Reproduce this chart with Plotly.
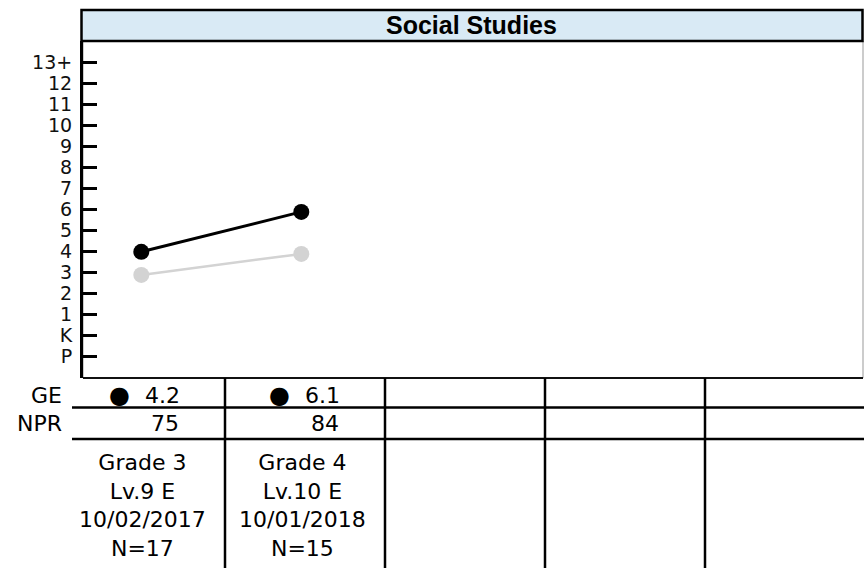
import plotly.graph_objects as go

# ---------------- data ----------------
subject = "Social Studies"
grade_labels = ["P", "K", "1", "2", "3", "4", "5", "6", "7", "8", "9", "10", "11", "12", "13+"]
grade_levels = [-1, 0, 1, 2, 3, 4, 5, 6, 7, 8, 9, 10, 11, 12, 13]
test_index = [0, 1]
ge_values = [4.2, 6.1]          # student grade equivalent (black)
norm_ge = [3.1, 4.1]            # comparison grade equivalent (gray)
ge_text = ["4.2", "6.1"]
npr_values = [75, 84]
grades = ["Grade 3", "Grade 4"]
levels = ["Lv.9 E", "Lv.10 E"]
dates = ["10/02/2017", "10/01/2018"]
n_counts = [17, 15]
n_columns = 5

# ---------------- geometry helpers (pixels -> paper) ----------------
W, H = 864, 568
L, R, T, B = 83, 1, 41, 190
PW, PH = W - L - R, H - T - B


def px(X):
    return (X - L) / PW


def py(Y):
    return (H - B - Y) / PH


FONT = "DejaVu Sans"
tick_offset = 0.2

fig = go.Figure()

fig.add_trace(go.Scatter(
    x=test_index, y=norm_ge, mode="lines+markers",
    line=dict(color="#d3d3d3", width=2.5),
    marker=dict(color="#d3d3d3", size=16),
    hoverinfo="skip", showlegend=False,
))
fig.add_trace(go.Scatter(
    x=test_index, y=ge_values, mode="lines+markers",
    line=dict(color="#000000", width=3),
    marker=dict(color="#000000", size=16),
    hoverinfo="skip", showlegend=False,
))

shapes = []
# plot frame (thin gray), bottom dark line
shapes.append(dict(type="rect", xref="paper", yref="paper", x0=0, x1=1, y0=0, y1=1,
                   line=dict(color="#999999", width=1), layer="below"))
shapes.append(dict(type="line", xref="paper", yref="paper", x0=0, x1=1, y0=0, y1=0,
                   line=dict(color="#111111", width=2)))
# title band
shapes.append(dict(type="rect", xref="paper", yref="paper",
                   x0=px(81.5), x1=px(862.5), y0=1, y1=py(10),
                   fillcolor="#d9eaf5", line=dict(color="#000000", width=2.5)))
# table horizontal rules
for Y in (407.5, 439):
    shapes.append(dict(type="line", xref="paper", yref="paper",
                       x0=px(72), x1=px(864), y0=py(Y), y1=py(Y),
                       line=dict(color="#000000", width=2.5)))
# table vertical rules (between columns)
for i in range(n_columns - 1):
    X = 225 + 160 * i
    shapes.append(dict(type="line", xref="paper", yref="paper",
                       x0=px(X), x1=px(X), y0=0, y1=py(568),
                       line=dict(color="#000000", width=2.5)))

annotations = []
annotations.append(dict(text="<b>%s</b>" % subject, xref="paper", yref="paper",
                        x=px(471.5), y=py(24.5), showarrow=False,
                        font=dict(family="Liberation Sans", size=25, color="#000000"),
                        xanchor="center", yanchor="middle"))
annotations.append(dict(text="GE", xref="paper", yref="paper", x=px(64), y=py(395),
                        showarrow=False, xanchor="right", yanchor="middle",
                        font=dict(family=FONT, size=22, color="#000000")))
annotations.append(dict(text="NPR", xref="paper", yref="paper", x=px(64), y=py(423),
                        showarrow=False, xanchor="right", yanchor="middle",
                        font=dict(family=FONT, size=22, color="#000000")))

for i in range(len(ge_values)):
    col_left = 65 + 160 * i
    annotations.append(dict(text="\u25cf", xref="paper", yref="paper",
                            x=px(col_left + 54), y=py(395), showarrow=False,
                            xanchor="center", yanchor="middle",
                            font=dict(family=FONT, size=24, color="#000000")))
    annotations.append(dict(text=ge_text[i], xref="paper", yref="paper",
                            x=px(col_left + 117), y=py(395), showarrow=False,
                            xanchor="right", yanchor="middle",
                            font=dict(family=FONT, size=22, color="#000000")))
    annotations.append(dict(text=str(npr_values[i]), xref="paper", yref="paper",
                            x=px(col_left + 116), y=py(423), showarrow=False,
                            xanchor="right", yanchor="middle",
                            font=dict(family=FONT, size=22, color="#000000")))
    info = "<br>".join([grades[i], levels[i], dates[i], "N=%d" % n_counts[i]])
    annotations.append(dict(text=info, xref="paper", yref="paper",
                            x=px(col_left + 77), y=py(505), showarrow=False,
                            xanchor="center", yanchor="middle", align="center",
                            font=dict(family=FONT, size=22, color="#000000")))

fig.update_layout(
    width=W, height=H,
    margin=dict(l=L, r=R, t=T, b=B),
    paper_bgcolor="#ffffff", plot_bgcolor="#ffffff",
    shapes=shapes, annotations=annotations,
    showlegend=False,
    xaxis=dict(range=[(L - 141.3) / 160, (W - R - 141.3) / 160],
               showgrid=False, zeroline=False, showticklabels=False,
               ticks="", showline=False, fixedrange=True),
    yaxis=dict(range=[(340 - (H - B)) / 21.0, (340 - T) / 21.0],
               tickvals=[g + tick_offset for g in grade_levels],
               ticktext=grade_labels,
               ticks="inside", ticklen=14, tickwidth=3, tickcolor="#000000",
               showline=True, linewidth=3, linecolor="#000000",
               showgrid=False, zeroline=False,
               tickfont=dict(family=FONT, size=19, color="#111111"),
               ticklabelstandoff=4, fixedrange=True),
)

fig.write_html(
    "out.html",
    config={"displayModeBar": False, "staticPlot": True},
    post_script="document.body.style.margin='0px';document.body.style.overflow='hidden';",
)
